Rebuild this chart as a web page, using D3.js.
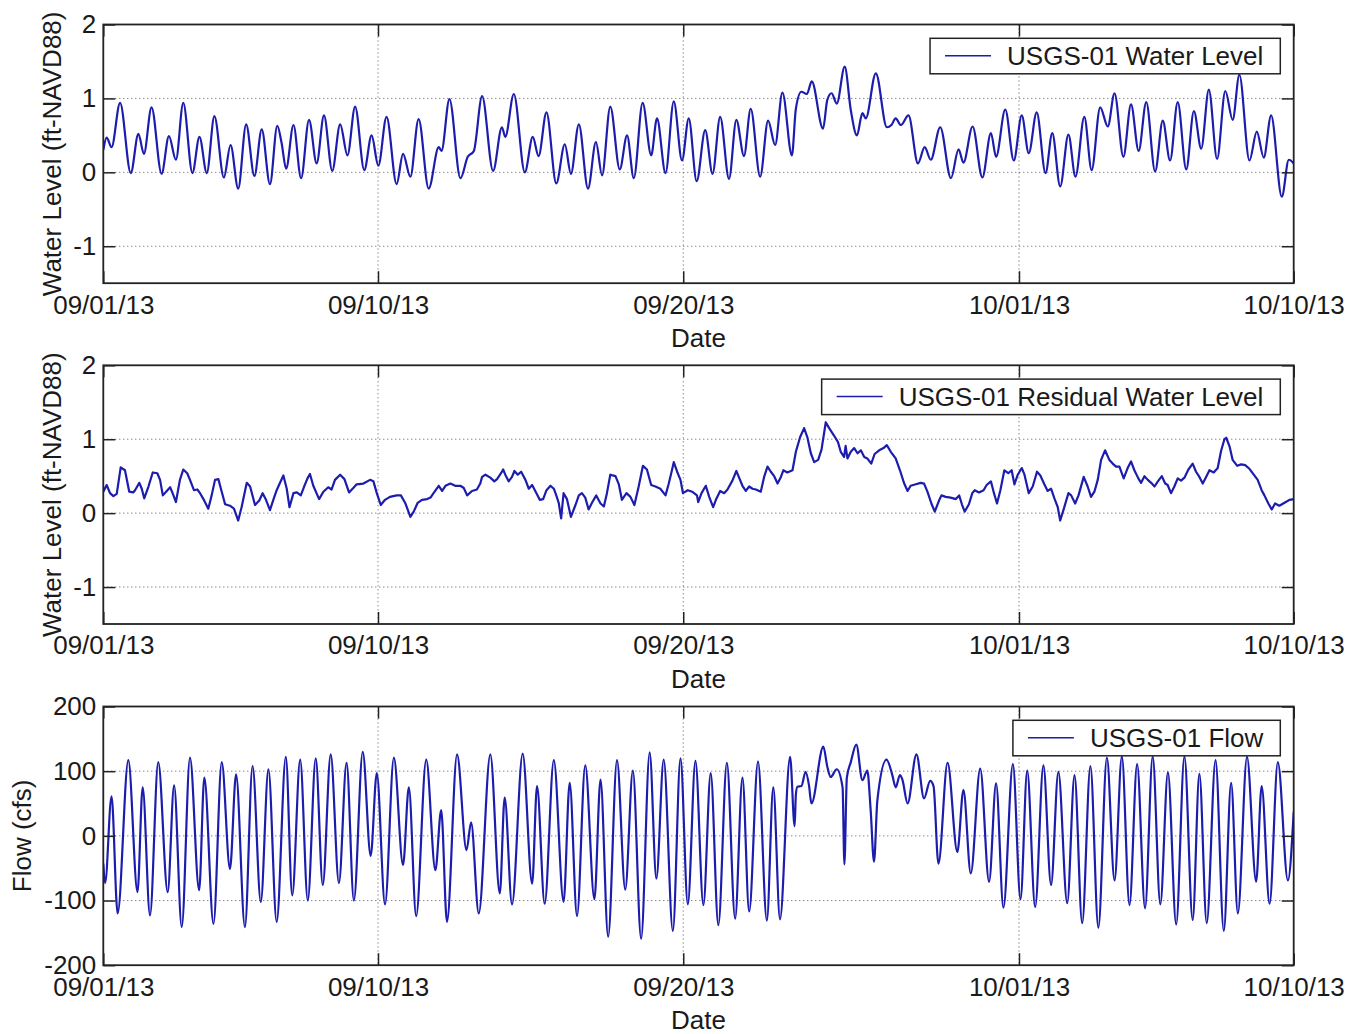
<!DOCTYPE html>
<html>
<head>
<meta charset="utf-8">
<script src="https://cdn.jsdelivr.net/npm/d3@7"></script>
<style>
  body { margin: 0; background: #fff; }
  svg text { font-family: "Liberation Sans", Arial, Helvetica, sans-serif; fill: #1a1a1a; }
</style>
</head>
<body>
<svg id="chart" width="1350" height="1034"></svg>
<script>
// time = days after 09/01/13 00:00

// USGS-01 water level (ft-NAVD88)
const wlDay = [
  0.00, 0.11, 0.27, 0.55, 0.90, 1.15, 1.33, 1.58, 1.91, 2.15,
  2.38, 2.62, 2.92, 3.15, 3.39, 3.64, 3.95, 4.17, 4.42, 4.68,
  4.95, 5.19, 5.46, 5.70, 5.84, 5.99, 6.23, 6.48, 6.74, 6.99,
  7.23, 7.50, 7.76, 8.00, 8.25, 8.55, 8.79, 9.01, 9.28, 9.61,
  9.82, 10.06, 10.33, 10.66, 10.99, 11.08, 11.34, 11.70, 11.94, 12.14,
  12.41, 12.77, 13.06, 13.17, 13.45, 13.81, 14.07, 14.26, 14.52, 14.84,
  15.12, 15.32, 15.58, 15.88, 16.14, 16.34, 16.61, 16.92, 17.16, 17.38,
  17.67, 17.95, 18.14, 18.42, 18.69, 18.96, 19.18, 19.44, 19.72, 19.96,
  20.21, 20.50, 20.74, 20.99, 21.21, 21.52, 21.78, 22.01, 22.25, 22.56,
  22.69, 22.87, 23.05, 23.21, 23.58, 23.72, 23.86, 24.03, 24.29, 24.49,
  24.69, 24.87, 24.98, 25.31, 25.67, 25.82, 25.96, 26.13, 26.38, 26.69,
  26.91, 27.11, 27.42, 27.77, 28.02, 28.18, 28.48, 28.80, 29.08, 29.25,
  29.55, 29.83, 30.09, 30.32, 30.58, 30.87, 31.09, 31.35, 31.62, 31.85,
  32.14, 32.38, 32.66, 32.91, 33.13, 33.42, 33.67, 33.92, 34.17, 34.46,
  34.71, 34.95, 35.20, 35.48, 35.73, 35.97, 36.22, 36.49, 36.76, 37.00,
  37.22, 37.55, 37.79, 38.02, 38.26, 38.61, 38.84, 39.00
];
const wlFt = [
  0.30, 0.47, 0.34, 0.94, -0.01, 0.52, 0.25, 0.88, -0.02, 0.49,
  0.17, 0.94, -0.01, 0.48, -0.01, 0.76, -0.07, 0.37, -0.22, 0.65,
  -0.05, 0.58, -0.16, 0.63, 0.40, 0.05, 0.64, -0.08, 0.71, 0.12,
  0.77, 0.02, 0.65, 0.23, 0.89, 0.03, 0.50, 0.09, 0.75, -0.16,
  0.25, -0.06, 0.72, -0.22, 0.34, 0.29, 0.99, -0.08, 0.21, 0.29,
  1.03, 0.02, 0.61, 0.48, 1.06, 0.00, 0.48, 0.22, 0.81, -0.15,
  0.38, -0.02, 0.65, -0.22, 0.41, -0.04, 0.89, 0.04, 0.50, -0.08,
  0.94, 0.23, 0.73, -0.01, 0.96, 0.16, 0.73, -0.12, 0.57, -0.02,
  0.75, -0.09, 0.71, 0.22, 0.86, -0.06, 0.70, 0.37, 1.08, 0.23,
  0.86, 1.09, 1.06, 1.23, 0.59, 0.98, 1.07, 0.93, 1.43, 0.84,
  0.50, 0.80, 0.73, 1.34, 0.61, 0.64, 0.73, 0.64, 0.77, 0.12,
  0.34, 0.17, 0.61, -0.08, 0.31, 0.13, 0.62, -0.07, 0.53, 0.21,
  0.85, 0.16, 0.77, 0.26, 0.81, -0.01, 0.53, -0.19, 0.51, -0.06,
  0.75, 0.03, 0.88, 0.62, 1.07, 0.21, 0.92, 0.29, 0.95, 0.01,
  0.70, 0.16, 0.95, 0.04, 0.83, 0.32, 1.12, 0.18, 1.10, 0.71,
  1.32, 0.16, 0.55, 0.20, 0.77, -0.33, 0.17, 0.12
];

// USGS-01 residual water level (ft-NAVD88)
const resDay = [
  0.00, 0.11, 0.22, 0.33, 0.44, 0.57, 0.71, 0.85, 0.98, 1.04,
  1.18, 1.26, 1.34, 1.48, 1.62, 1.77, 1.86, 1.95, 2.08, 2.19,
  2.27, 2.38, 2.51, 2.62, 2.75, 2.84, 2.97, 3.08, 3.17, 3.28,
  3.44, 3.55, 3.66, 3.77, 3.88, 3.99, 4.15, 4.28, 4.42, 4.53,
  4.70, 4.81, 4.97, 5.11, 5.22, 5.33, 5.46, 5.57, 5.68, 5.79,
  5.90, 6.01, 6.10, 6.23, 6.34, 6.47, 6.58, 6.69, 6.77, 6.88,
  7.07, 7.21, 7.37, 7.48, 7.59, 7.76, 7.90, 8.05, 8.19, 8.30,
  8.52, 8.74, 8.85, 8.96, 9.09, 9.23, 9.39, 9.61, 9.75, 9.90,
  10.06, 10.17, 10.30, 10.44, 10.61, 10.72, 10.82, 10.99, 11.10, 11.21,
  11.37, 11.53, 11.70, 11.81, 11.92, 12.08, 12.24, 12.35, 12.41, 12.52,
  12.68, 12.81, 12.90, 13.03, 13.10, 13.17, 13.28, 13.39, 13.47, 13.58,
  13.69, 13.83, 13.94, 14.05, 14.19, 14.30, 14.41, 14.52, 14.65, 14.76,
  14.84, 14.92, 15.00, 15.08, 15.19, 15.32, 15.47, 15.58, 15.68, 15.79,
  15.90, 16.01, 16.15, 16.29, 16.40, 16.50, 16.61, 16.78, 16.89, 16.99,
  17.14, 17.27, 17.40, 17.54, 17.68, 17.81, 17.95, 18.09, 18.25, 18.42,
  18.52, 18.63, 18.69, 18.80, 18.91, 18.99, 19.15, 19.29, 19.45, 19.49,
  19.60, 19.74, 19.85, 19.98, 20.07, 20.21, 20.34, 20.45, 20.61, 20.74,
  20.83, 20.94, 21.05, 21.16, 21.27, 21.38, 21.54, 21.65, 21.76, 21.87,
  21.98, 22.09, 22.20, 22.28, 22.41, 22.58, 22.69, 22.83, 22.96, 23.07,
  23.18, 23.29, 23.42, 23.53, 23.67, 23.78, 23.94, 24.07, 24.16, 24.27,
  24.32, 24.38, 24.49, 24.60, 24.71, 24.82, 24.93, 25.03, 25.16, 25.27,
  25.42, 25.56, 25.67, 25.80, 25.96, 26.10, 26.24, 26.35, 26.45, 26.62,
  26.78, 26.89, 27.00, 27.13, 27.24, 27.38, 27.46, 27.60, 27.76, 27.93,
  28.04, 28.13, 28.22, 28.36, 28.47, 28.55, 28.69, 28.84, 28.94, 29.08,
  29.18, 29.28, 29.39, 29.52, 29.65, 29.76, 29.85, 29.96, 30.09, 30.18,
  30.32, 30.45, 30.59, 30.70, 30.83, 30.94, 31.05, 31.16, 31.27, 31.35,
  31.47, 31.62, 31.71, 31.84, 31.95, 32.12, 32.25, 32.36, 32.47, 32.58,
  32.69, 32.82, 32.96, 33.07, 33.18, 33.29, 33.43, 33.56, 33.67, 33.78,
  33.91, 34.00, 34.11, 34.22, 34.33, 34.44, 34.55, 34.68, 34.79, 34.87,
  34.98, 35.09, 35.20, 35.31, 35.42, 35.55, 35.69, 35.80, 35.91, 36.02,
  36.13, 36.24, 36.38, 36.51, 36.62, 36.73, 36.79, 36.90, 37.00, 37.15,
  37.28, 37.41, 37.55, 37.71, 37.82, 37.95, 38.04, 38.17, 38.28, 38.39,
  38.53, 38.70, 38.86, 39.00
];
const resFt = [
  0.29, 0.38, 0.27, 0.23, 0.26, 0.62, 0.58, 0.29, 0.28, 0.31,
  0.41, 0.33, 0.20, 0.36, 0.55, 0.54, 0.45, 0.24, 0.30, 0.35,
  0.27, 0.15, 0.45, 0.59, 0.54, 0.45, 0.31, 0.32, 0.27, 0.19,
  0.06, 0.24, 0.45, 0.46, 0.29, 0.12, 0.10, 0.06, -0.10, 0.08,
  0.41, 0.36, 0.11, 0.17, 0.27, 0.18, 0.04, 0.18, 0.31, 0.41,
  0.51, 0.33, 0.08, 0.27, 0.28, 0.24, 0.36, 0.47, 0.53, 0.37,
  0.19, 0.29, 0.35, 0.32, 0.45, 0.52, 0.46, 0.28, 0.34, 0.39,
  0.40, 0.45, 0.43, 0.27, 0.11, 0.18, 0.22, 0.24, 0.24, 0.13,
  -0.05, 0.02, 0.14, 0.18, 0.19, 0.21, 0.27, 0.37, 0.30, 0.37,
  0.40, 0.37, 0.37, 0.34, 0.24, 0.30, 0.32, 0.40, 0.49, 0.52,
  0.48, 0.43, 0.46, 0.54, 0.59, 0.52, 0.43, 0.49, 0.57, 0.52,
  0.56, 0.45, 0.33, 0.38, 0.27, 0.18, 0.19, 0.31, 0.37, 0.33,
  0.24, 0.14, -0.07, 0.27, 0.19, -0.05, 0.11, 0.24, 0.27, 0.21,
  0.05, 0.14, 0.24, 0.13, 0.09, 0.27, 0.52, 0.50, 0.39, 0.18,
  0.27, 0.22, 0.11, 0.36, 0.64, 0.59, 0.38, 0.36, 0.33, 0.24,
  0.39, 0.58, 0.69, 0.56, 0.45, 0.27, 0.31, 0.29, 0.24, 0.15,
  0.27, 0.37, 0.22, 0.08, 0.18, 0.30, 0.27, 0.32, 0.44, 0.57,
  0.48, 0.37, 0.30, 0.36, 0.33, 0.32, 0.29, 0.49, 0.63, 0.56,
  0.50, 0.40, 0.49, 0.58, 0.55, 0.58, 0.83, 1.03, 1.15, 1.02,
  0.81, 0.69, 0.72, 0.86, 1.23, 1.15, 1.05, 0.96, 0.83, 0.76,
  0.91, 0.74, 0.83, 0.88, 0.81, 0.85, 0.76, 0.74, 0.67, 0.80,
  0.85, 0.88, 0.92, 0.83, 0.74, 0.58, 0.40, 0.30, 0.37, 0.39,
  0.41, 0.40, 0.29, 0.13, 0.02, 0.17, 0.24, 0.22, 0.21, 0.19,
  0.24, 0.12, 0.02, 0.12, 0.27, 0.31, 0.28, 0.31, 0.38, 0.43,
  0.27, 0.13, 0.31, 0.58, 0.54, 0.58, 0.39, 0.52, 0.61, 0.52,
  0.27, 0.36, 0.56, 0.51, 0.39, 0.30, 0.33, 0.20, 0.08, -0.10,
  0.06, 0.27, 0.24, 0.13, 0.24, 0.49, 0.36, 0.22, 0.29, 0.45,
  0.72, 0.85, 0.72, 0.67, 0.63, 0.63, 0.47, 0.61, 0.70, 0.58,
  0.47, 0.41, 0.50, 0.45, 0.41, 0.36, 0.43, 0.50, 0.40, 0.38,
  0.27, 0.36, 0.47, 0.44, 0.48, 0.59, 0.67, 0.56, 0.49, 0.40,
  0.49, 0.58, 0.55, 0.61, 0.84, 1.00, 1.02, 0.90, 0.72, 0.64,
  0.66, 0.65, 0.60, 0.51, 0.45, 0.31, 0.24, 0.13, 0.05, 0.13,
  0.10, 0.14, 0.18, 0.19
];

// USGS-01 flow (cfs)
const flowDay = [
  0.00, 0.06, 0.27, 0.47, 0.82, 1.12, 1.29, 1.53, 1.80, 2.11,
  2.32, 2.57, 2.84, 3.14, 3.31, 3.61, 3.88, 4.15, 4.35, 4.64,
  4.89, 5.16, 5.41, 5.68, 5.98, 6.19, 6.45, 6.70, 6.96, 7.19,
  7.45, 7.72, 7.97, 8.21, 8.50, 8.76, 8.96, 9.23, 9.52, 9.82,
  10.01, 10.25, 10.58, 10.88, 11.07, 11.26, 11.59, 11.90, 12.05, 12.30,
  12.68, 12.99, 13.15, 13.39, 13.74, 14.05, 14.21, 14.46, 14.76, 15.08,
  15.28, 15.52, 15.79, 16.09, 16.29, 16.54, 16.83, 17.10, 17.35, 17.62,
  17.90, 18.12, 18.36, 18.66, 18.91, 19.15, 19.40, 19.66, 19.90, 20.15,
  20.43, 20.70, 20.94, 21.16, 21.45, 21.74, 21.95, 22.17, 22.50, 22.65,
  22.69, 22.74, 22.87, 23.01, 23.12, 23.20, 23.59, 23.72, 23.83, 24.03,
  24.22, 24.28, 24.36, 24.49, 24.67, 24.87, 25.03, 25.14, 25.25, 25.36,
  25.66, 25.85, 25.96, 26.10, 26.18, 26.35, 26.64, 26.89, 27.09, 27.20,
  27.36, 27.66, 27.98, 28.18, 28.42, 28.73, 29.02, 29.25, 29.49, 29.80,
  30.05, 30.27, 30.53, 30.80, 31.05, 31.29, 31.58, 31.82, 32.07, 32.34,
  32.60, 32.88, 33.13, 33.37, 33.62, 33.87, 34.13, 34.38, 34.63, 34.88,
  35.15, 35.42, 35.69, 35.91, 36.15, 36.44, 36.71, 36.95, 37.17, 37.47,
  37.77, 37.95, 38.21, 38.48, 38.81, 39.00
];
const flowCfs = [
  -43, -73, 61, -120, 117, -87, 75, -123, 114, -87,
  78, -141, 121, -84, 90, -136, 114, -51, 95, -141,
  108, -102, 103, -133, 122, -92, 118, -100, 120, -76,
  126, -73, 113, -100, 130, -31, 97, -106, 121, -45,
  75, -124, 118, -53, 40, -133, 126, -22, 21, -120,
  126, -89, 59, -106, 127, -74, 77, -105, 117, -102,
  82, -124, 109, -98, 87, -156, 117, -83, 101, -159,
  129, -66, 118, -147, 120, -106, 116, -107, 97, -138,
  113, -128, 90, -117, 115, -131, 75, -129, 122, 15,
  64, 76, 77, 99, 78, 50, 138, 107, 91, 103,
  75, -44, 90, 114, 141, 86, 101, 40, -40, 55,
  118, 94, 75, 94, 87, 50, 126, 58, 85, 77,
  -43, 113, -25, 71, -58, 104, -71, 81, -111, 111,
  -98, 101, -110, 109, -76, 99, -104, 94, -135, 108,
  -142, 121, -69, 123, -107, 111, -112, 123, -106, 98,
  -137, 123, -130, 96, -135, 117, -147, 82, -120, 122,
  -71, 77, -105, 114, -69, 37
];

const dateTicks = ["2013-09-01", "2013-09-10", "2013-09-20", "2013-10-01", "2013-10-10"];
const levelTicks = [-1, 0, 1, 2];
const flowTicks = [-200, -100, 0, 100, 200];

[[wlDay, wlFt], [resDay, resFt], [flowDay, flowCfs]].forEach(([a, b]) => {
    if (a.length !== b.length) throw new Error("length mismatch " + a.length + " vs " + b.length);
});

const panels = [
    { day: wlDay, val: wlFt, domain: [-1.5, 2], ticks: levelTicks, top: 24.5,
      ylabel: "Water Level (ft-NAVD88)", ylabelX: 61, legend: "USGS-01 Water Level", curve: d3.curveMonotoneX },
    { day: resDay, val: resFt, domain: [-1.5, 2], ticks: levelTicks, top: 365.3,
      ylabel: "Water Level (ft-NAVD88)", ylabelX: 61, legend: "USGS-01 Residual Water Level", curve: d3.curveLinear },
    { day: flowDay, val: flowCfs, domain: [-200, 200], ticks: flowTicks, top: 706.5,
      ylabel: "Flow (cfs)", ylabelX: 31, legend: "USGS-01 Flow", curve: d3.curveMonotoneX }
];

const left = 103.3;
const width = 1190.4;
const height = 258.7;
const fontSize = 26;
const lineColor = "#1c1cad";
const axisColor = "#222";

const parseDay = d3.utcParse("%Y-%m-%d");
const t0 = parseDay(dateTicks[0]);
const toDate = d => new Date(+t0 + d * 864e5);

const x = d3.scaleUtc()
    .domain([t0, parseDay(dateTicks[dateTicks.length - 1])])
    .range([0, width]);
const tickDates = dateTicks.map(parseDay);
const fmt = d3.utcFormat("%m/%d/%y");

const svg = d3.select("#chart");

panels.forEach((p, k) => {
    const y = d3.scaleLinear().domain(p.domain).range([height, 0]);

    const g = svg.append("g")
        .attr("transform", `translate(${left}, ${p.top})`);

    // dotted grid
    const grid = g.append("g")
        .attr("stroke", "#555")
        .attr("stroke-width", 1)
        .attr("stroke-dasharray", "1,3");
    grid.selectAll(".gx")
        .data(tickDates.slice(1, -1))
        .enter().append("line")
        .attr("x1", d => x(d)).attr("x2", d => x(d))
        .attr("y1", 0).attr("y2", height);
    grid.selectAll(".gy")
        .data(p.ticks.filter(t => t > p.domain[0] && t < p.domain[1]))
        .enter().append("line")
        .attr("y1", d => y(d)).attr("y2", d => y(d))
        .attr("x1", 0).attr("x2", width);

    // data line
    g.append("clipPath").attr("id", "clip" + k)
        .append("rect").attr("width", width).attr("height", height);

    const line = d3.line()
        .x(i => x(toDate(p.day[i])))
        .y(i => y(p.val[i]))
        .curve(p.curve);

    g.append("path")
        .datum(d3.range(p.day.length))
        .attr("clip-path", `url(#clip${k})`)
        .attr("fill", "none")
        .attr("stroke", lineColor)
        .attr("stroke-width", 2.2)
        .attr("stroke-linejoin", "round")
        .attr("d", line);

    // axes, ticks pointing inwards on all four sides
    const styleAxis = sel => {
        sel.select(".domain").remove();
        sel.selectAll("line").attr("stroke", axisColor).attr("stroke-width", 1.5);
        sel.selectAll("text").attr("font-size", fontSize).attr("fill", "#1a1a1a")
            .style("font-family", '"Liberation Sans", Arial, sans-serif');
    };

    g.append("g")
        .call(d3.axisLeft(y).tickValues(p.ticks).tickSize(-12).tickPadding(7).tickFormat(d => String(d)))
        .call(styleAxis);
    g.append("g")
        .attr("transform", `translate(${width}, 0)`)
        .call(d3.axisRight(y).tickValues(p.ticks).tickSize(-12).tickFormat(""))
        .call(styleAxis);
    g.append("g")
        .attr("transform", `translate(0, ${height})`)
        .call(d3.axisBottom(x).tickValues(tickDates).tickSize(-12).tickPadding(12).tickFormat(fmt))
        .call(styleAxis);
    g.append("g")
        .call(d3.axisTop(x).tickValues(tickDates).tickSize(-12).tickFormat(""))
        .call(styleAxis);

    g.append("rect")
        .attr("width", width)
        .attr("height", height)
        .attr("fill", "none")
        .attr("stroke", axisColor)
        .attr("stroke-width", 1.8);

    // axis titles
    g.append("text")
        .attr("x", width / 2)
        .attr("y", height + 64)
        .attr("text-anchor", "middle")
        .attr("font-size", fontSize)
        .text("Date");

    svg.append("text")
        .attr("transform", `translate(${p.ylabelX}, ${p.top + height / 2}) rotate(-90)`)
        .attr("text-anchor", "middle")
        .attr("font-size", fontSize)
        .text(p.ylabel);

    // legend box in the upper right
    const legend = g.append("g");
    const box = legend.append("rect")
        .attr("fill", "#fff")
        .attr("stroke", axisColor)
        .attr("stroke-width", 1.5);
    const label = legend.append("text")
        .attr("font-size", fontSize)
        .text(p.legend);
    const boxW = 77 + label.node().getComputedTextLength() + 17;
    const boxX = width - 13.4 - boxW;
    const boxY = 13.8;
    box.attr("x", boxX).attr("y", boxY).attr("width", boxW).attr("height", 35.5);
    label.attr("x", boxX + 77).attr("y", boxY + 27);
    legend.append("line")
        .attr("x1", boxX + 15).attr("x2", boxX + 61)
        .attr("y1", boxY + 17.5).attr("y2", boxY + 17.5)
        .attr("stroke", lineColor)
        .attr("stroke-width", 1.5);
});
</script>
</body>
</html>
